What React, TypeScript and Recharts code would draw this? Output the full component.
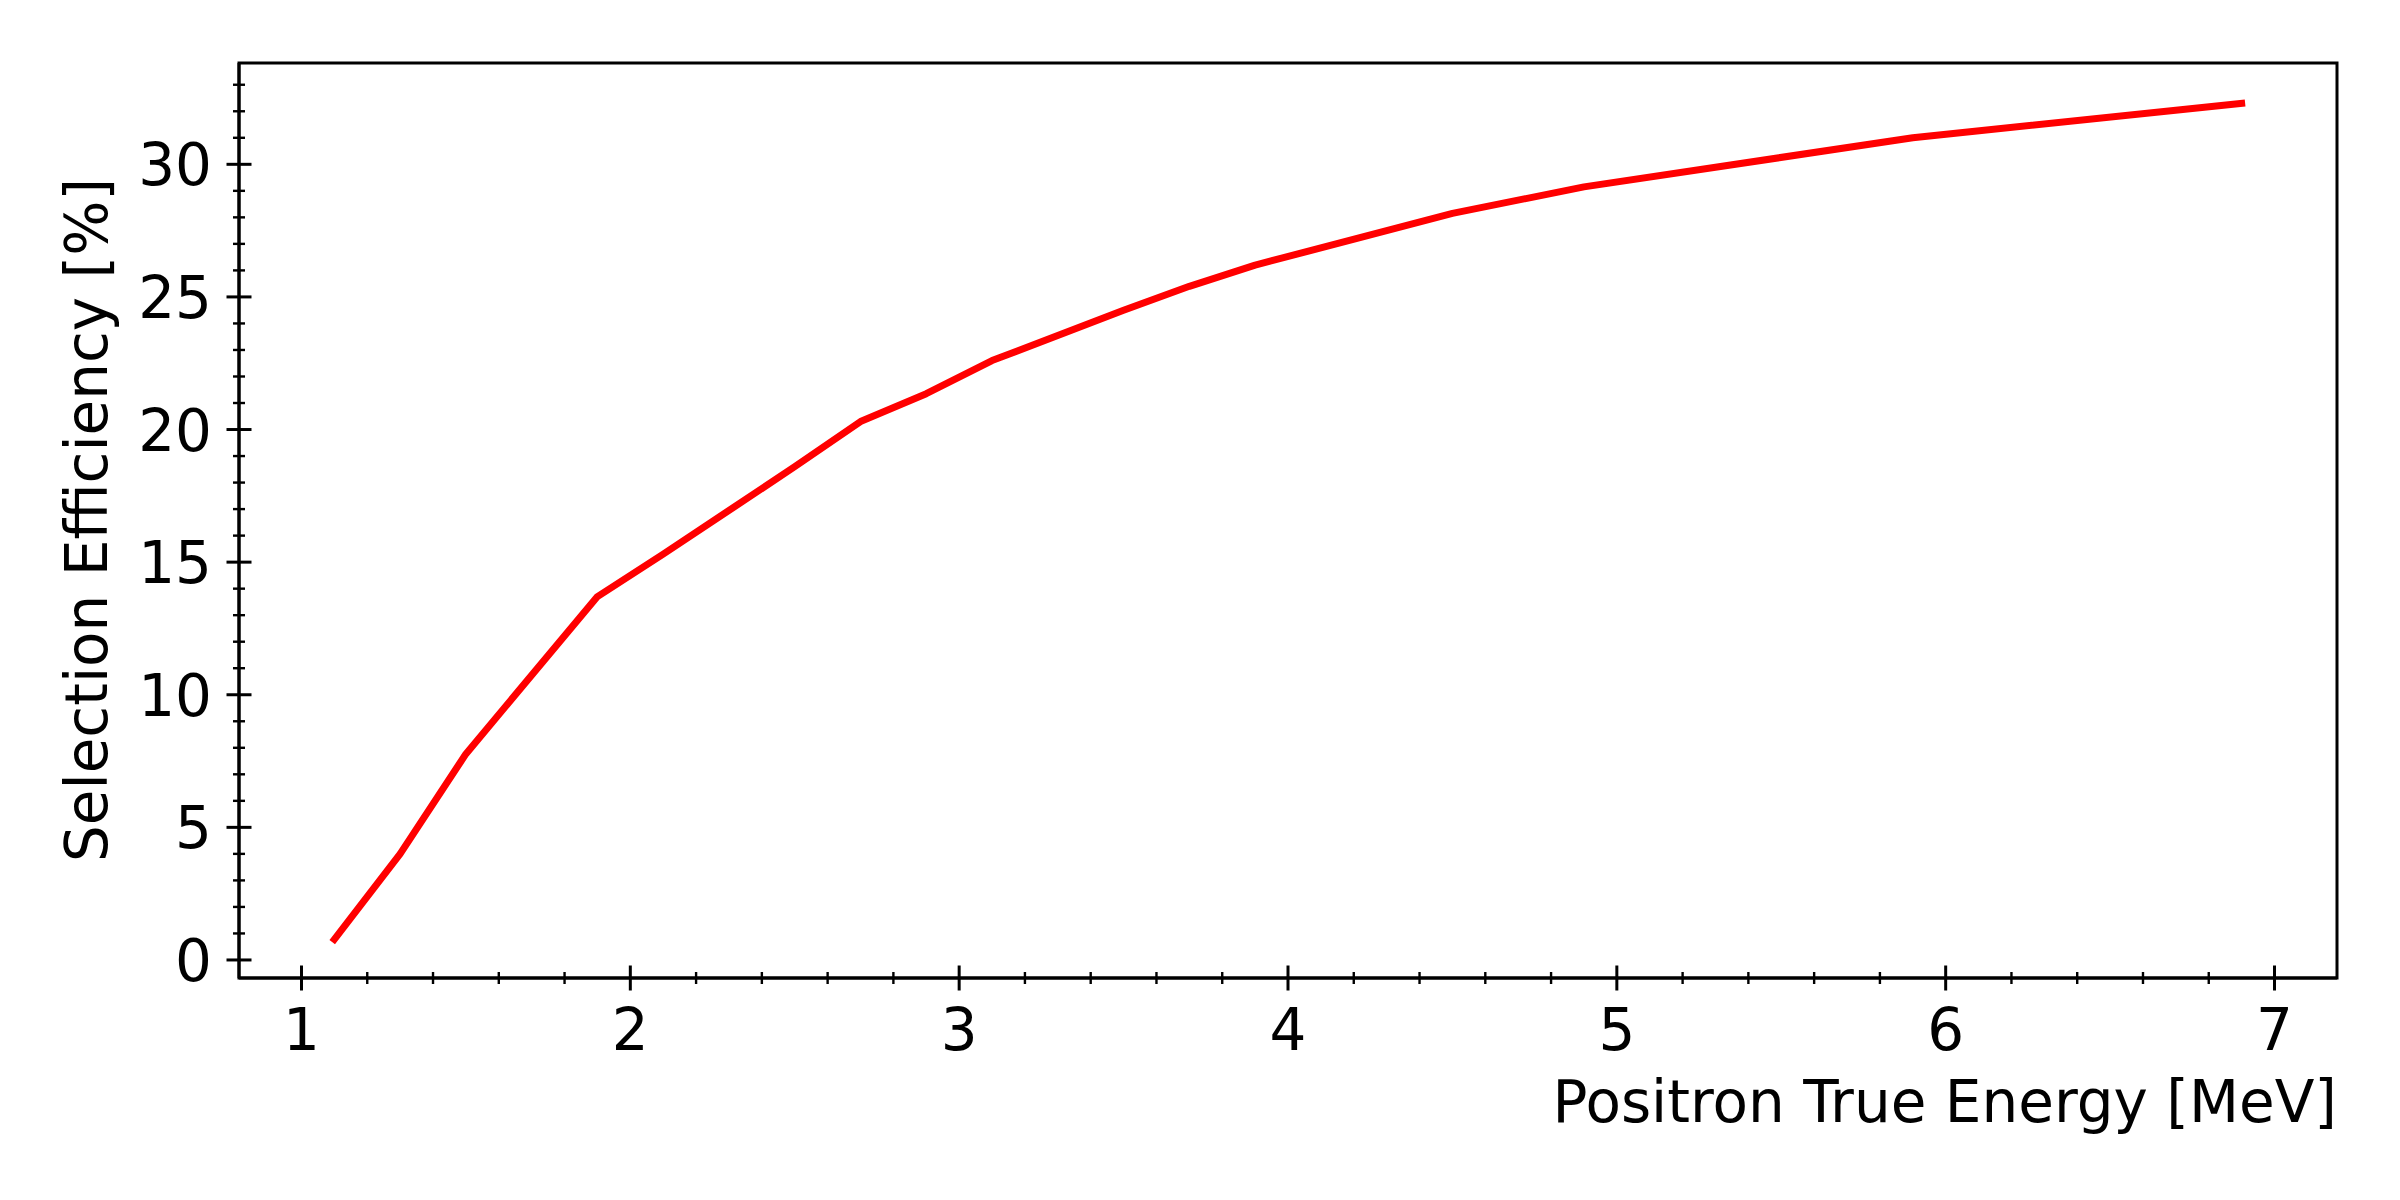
import { LineChart, Line, XAxis, YAxis, ReferenceArea } from "recharts";

const energy = [1.1, 1.3, 1.5, 1.9, 2.1, 2.5, 2.7, 2.9, 3.1, 3.5, 3.7, 3.9, 4.5, 4.9, 5.9, 6.9];
const efficiency = [0.78, 4.0, 7.77, 13.7, 15.3, 18.6, 20.3, 21.35, 22.6, 24.5, 25.4, 26.2, 28.15, 29.15, 31.0, 32.3];

// every tick position (majors get a label)
const xTicks = [1, 1.2, 1.4, 1.6, 1.8, 2, 2.2, 2.4, 2.6, 2.8, 3, 3.2, 3.4, 3.6, 3.8, 4, 4.2, 4.4, 4.6, 4.8, 5, 5.2, 5.4, 5.6, 5.8, 6, 6.2, 6.4, 6.6, 6.8, 7];
const xMajor = [1, 2, 3, 4, 5, 6, 7];
const yTicks = [0, 1, 2, 3, 4, 5, 6, 7, 8, 9, 10, 11, 12, 13, 14, 15, 16, 17, 18, 19, 20, 21, 22, 23, 24, 25, 26, 27, 28, 29, 30, 31, 32, 33];
const yMajor = [0, 5, 10, 15, 20, 25, 30];

const xDomain = [0.81, 7.19];
const yDomain = [-0.68, 33.82];

const data = energy.map((e, i) => ({ energy: e, eff: efficiency[i] }));

const FONT = "DejaVu Sans";
const FS = 58;

const isMajor = (v: number, majors: number[]) => majors.some((m) => Math.abs(m - v) < 1e-6);

const XTick = (props: any) => {
  const { x, y, payload } = props;
  const major = isMajor(payload.value, xMajor);
  const len = major ? 12.5 : 6;
  return (
    <g>
      <line x1={x} x2={x} y1={y - len} y2={y + len} stroke="#000" strokeWidth={major ? 3 : 2.4} />
      {major && (
        <text x={x} y={y + 72} textAnchor="middle" fontFamily={FONT} fontSize={FS} fill="#000">
          {payload.value}
        </text>
      )}
    </g>
  );
};

const YTick = (props: any) => {
  const { x, y, payload } = props;
  const major = isMajor(payload.value, yMajor);
  const len = major ? 12.5 : 6;
  return (
    <g>
      <line x1={x - len} x2={x + len} y1={y} y2={y} stroke="#000" strokeWidth={major ? 3 : 2.4} />
      {major && (
        <text x={x - 27} y={y + 21} textAnchor="end" fontFamily={FONT} fontSize={FS} fill="#000">
          {payload.value}
        </text>
      )}
    </g>
  );
};

const App = () => {
  return (
    <div style={{ position: "absolute", left: 0, top: 0, width: 2400, height: 1200, background: "#fff" }}>
      <LineChart width={2400} height={1200} data={data} margin={{ top: 63, right: 63, left: 0, bottom: 0 }}>
        <XAxis
          dataKey="energy"
          type="number"
          domain={xDomain}
          allowDataOverflow
          ticks={xTicks}
          interval={0}
          height={222}
          tickSize={0}
          tickMargin={0}
          tickLine={false}
          axisLine={{ stroke: "#000", strokeWidth: 3 }}
          tick={(p: any) => <XTick {...p} />}
          label={{
            value: "Positron True Energy [MeV]",
            position: "insideBottomRight",
            offset: 0,
            content: () => (
              <text x={2337} y={1122} textAnchor="end" fontFamily={FONT} fontSize={FS} fill="#000">
                Positron True Energy [MeV]
              </text>
            ),
          }}
        />
        <YAxis
          type="number"
          domain={yDomain}
          allowDataOverflow
          ticks={yTicks}
          interval={0}
          width={239}
          tickSize={0}
          tickMargin={0}
          tickLine={false}
          axisLine={{ stroke: "#000", strokeWidth: 3 }}
          tick={(p: any) => <YTick {...p} />}
          label={{
            value: "Selection Efficiency [%]",
            content: () => (
              <text
                x={87}
                y={520}
                transform="rotate(-90 87 520)"
                textAnchor="middle"
                dominantBaseline="central"
                fontFamily={FONT}
                fontSize={FS}
                fill="#000"
              >
                Selection Efficiency [%]
              </text>
            ),
          }}
        />
        <ReferenceArea
          x1={xDomain[0]}
          x2={xDomain[1]}
          y1={yDomain[0]}
          y2={yDomain[1]}
          fill="none"
          fillOpacity={0}
          stroke="#000"
          strokeWidth={3}
          ifOverflow="visible"
        />
        <Line
          type="linear"
          dataKey="eff"
          stroke="#ff0000"
          strokeWidth={7}
          strokeLinecap="square"
          strokeLinejoin="round"
          dot={false}
          activeDot={false}
          isAnimationActive={false}
        />
      </LineChart>
    </div>
  );
};

export default App;
